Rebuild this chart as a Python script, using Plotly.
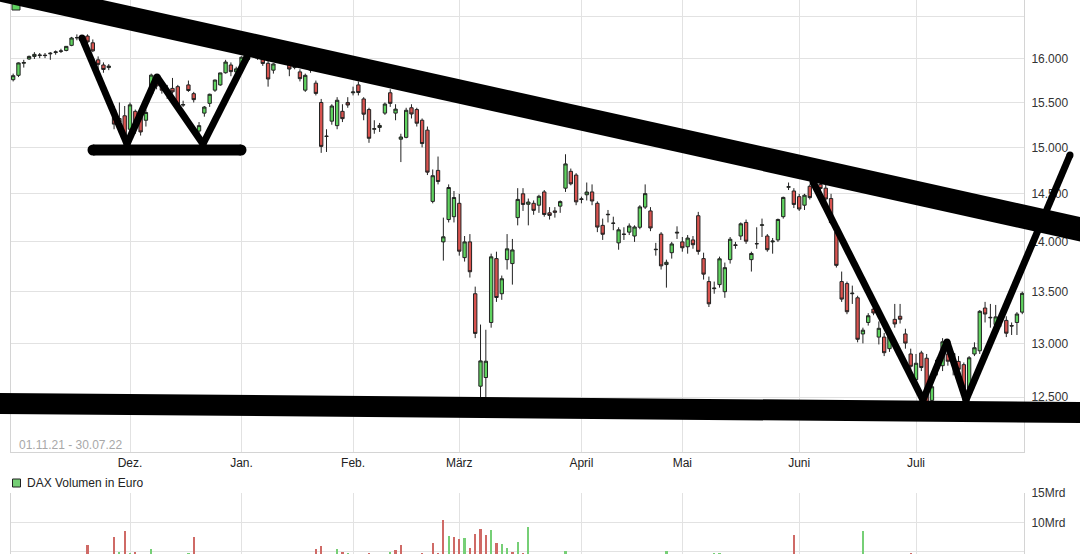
import math
import plotly.graph_objects as go

# ---------------- data ----------------
trading_days = {
    "2021-11": [1, 2, 3, 4, 5, 8, 9, 10, 11, 12, 15, 16, 17, 18, 19, 22, 23, 24, 25, 26, 29, 30],
    "2021-12": [1, 2, 3, 6, 7, 8, 9, 10, 13, 14, 15, 16, 17, 20, 21, 22, 23, 27, 28, 29, 30],
    "2022-01": [3, 4, 5, 6, 7, 10, 11, 12, 13, 14, 17, 18, 19, 20, 21, 24, 25, 26, 27, 28, 31],
    "2022-02": [1, 2, 3, 4, 7, 8, 9, 10, 11, 14, 15, 16, 17, 18, 21, 22, 23, 24, 25, 28],
    "2022-03": [1, 2, 3, 4, 7, 8, 9, 10, 11, 14, 15, 16, 17, 18, 21, 22, 23, 24, 25, 28, 29, 30, 31],
    "2022-04": [1, 4, 5, 6, 7, 8, 11, 12, 13, 14, 19, 20, 21, 22, 25, 26, 27, 28, 29],
    "2022-05": [2, 3, 4, 5, 6, 9, 10, 11, 12, 13, 16, 17, 18, 19, 20, 23, 24, 25, 26, 27, 30, 31],
    "2022-06": [1, 2, 3, 6, 7, 8, 9, 10, 13, 14, 15, 16, 17, 20, 21, 22, 23, 24, 27, 28, 29, 30],
    "2022-07": [1, 4, 5, 6, 7, 8, 11, 12, 13, 14, 15, 18, 19, 20, 21, 22, 25, 26, 27, 28, 29],
}
dates = [f"{m}-{d:02d}" for m, days in trading_days.items() for d in days]

opens = [
    # Nov
    15760, 15810, 15950, 16000, 16030, 16040, 16045, 16060, 16075, 16090, 16100, 16160, 16250, 16250, 16270, 16190, 15990, 15930, 15900, 15420, 15320, 15350,
    # Dec
    15200, 15400, 15380, 15300, 15600, 15790, 15700, 15650, 15660, 15680, 15470, 15700, 15600, 15180, 15380, 15490, 15640, 15700, 15840, 15930, 15850,
    # Jan
    15900, 16070, 16180, 16100, 16020, 15950, 15870, 15990, 16050, 15950, 15900, 15850, 15640, 15870, 15720, 15500, 15120, 15290, 15240, 15400, 15500,
    # Feb
    15610, 15700, 15540, 15420, 15200, 15220, 15380, 15610, 15380, 15090, 15110, 15440, 15420, 15300, 15190, 14420, 14750, 14000, 14230, 14260,
    # Mar
    14400, 13840, 14000, 13480, 12600, 12680, 13200, 13830, 13480, 13820, 13780, 14250, 14500, 14390, 14400, 14380, 14520, 14300, 14320, 14370, 14560, 14740, 14700,
    # Apr
    14440, 14490, 14520, 14400, 14170, 14280, 14190, 13990, 14080, 14100, 14060, 14150, 14360, 14320, 13920, 14080, 13770, 13890, 14090,
    # May
    14000, 13950, 14020, 14270, 13830, 13600, 13530, 13570, 13500, 13820, 13970, 14060, 14200, 13820, 13980, 14170, 14060, 14000, 14020, 14260, 14570, 14530,
    # Jun
    14470, 14380, 14580, 14560, 14600, 14560, 14450, 14100, 13600, 13580, 13480, 13440, 13090, 13200, 13330, 13060, 13060, 12950, 13230, 13260, 13090, 12900,
    # Jul
    12660, 12910, 12860, 12470, 12760, 12790, 12900, 12830, 12830, 12800, 12580, 12900, 12930, 13340, 13250, 13180, 13260, 13220, 13170, 13200, 13300,
]
highs = [
    15830, 15960, 15990, 16040, 16080, 16070, 16070, 16080, 16100, 16120, 16150, 16260, 16290, 16280, 16290, 16230, 16030, 15960, 15940, 15460, 15500, 15460,
    15500, 15420, 15420, 15420, 15830, 15820, 15720, 15700, 15780, 15700, 15520, 15750, 15620, 15280, 15460, 15600, 15760, 15840, 15990, 15960, 15910,
    16030, 16170, 16285, 16130, 16060, 15980, 15950, 16060, 16080, 15970, 15950, 15880, 15830, 15930, 15750, 15540, 15200, 15480, 15560, 15480, 15560,
    15680, 15740, 15560, 15440, 15300, 15270, 15500, 15650, 15480, 15150, 15440, 15480, 15440, 15320, 15230, 14760, 14900, 14250, 14600, 14530,
    14500, 14060, 14080, 13550, 13180, 13130, 13880, 13900, 13660, 14080, 14030, 14560, 14560, 14450, 14430, 14490, 14540, 14360, 14360, 14430, 14925, 14770, 14720,
    14470, 14620, 14600, 14420, 14240, 14330, 14260, 14150, 14150, 14190, 14170, 14380, 14600, 14360, 13990, 14100, 13820, 14000, 14160,
    14050, 14070, 14060, 14310, 13890, 13650, 13600, 13850, 13790, 14050, 14000, 14200, 14230, 13900, 14150, 14240, 14080, 14040, 14240, 14470, 14620, 14560,
    14500, 14500, 14600, 14680, 14620, 14600, 14500, 14120, 13700, 13600, 13560, 13460, 13150, 13290, 13350, 13210, 13100, 13130, 13380, 13380, 13140, 12950,
    12900, 12930, 12900, 12650, 12870, 13050, 12930, 12920, 12880, 12820, 12880, 13010, 13320, 13400, 13380, 13370, 13310, 13260, 13200, 13300, 13500,
]
lows = [
    15740, 15790, 15900, 15990, 16000, 16010, 16010, 15990, 16050, 16070, 16090, 16150, 16220, 16200, 16150, 16080, 15880, 15840, 15870, 15200, 15200, 15060,
    15150, 15150, 15130, 15230, 15580, 15650, 15600, 15540, 15600, 15420, 15450, 15620, 15500, 15060, 15340, 15450, 15620, 15690, 15830, 15800, 15840,
    15880, 16050, 16160, 15990, 15920, 15680, 15830, 15960, 15990, 15800, 15880, 15740, 15620, 15840, 15580, 14940, 14950, 15250, 15200, 15280, 15440,
    15580, 15580, 15300, 15050, 15150, 15170, 15360, 15450, 15300, 14840, 15100, 15320, 15230, 15000, 14700, 14400, 14600, 13810, 14200, 14200,
    13860, 13800, 13640, 13050, 12440, 12480, 13150, 13400, 13420, 13720, 13570, 14170, 14320, 14170, 14280, 14300, 14260, 14230, 14250, 14300, 14520, 14590, 14380,
    14400, 14430, 14380, 14100, 14020, 14200, 14120, 13920, 14020, 14070, 14000, 14130, 14340, 14110, 13860, 13720, 13540, 13830, 14030,
    13900, 13880, 13930, 13870, 13620, 13350, 13480, 13540, 13440, 13780, 13930, 14020, 13980, 13700, 13930, 14050, 13900, 13880, 14000, 14240, 14540, 14350,
    14320, 14330, 14440, 14540, 14460, 14420, 14180, 13740, 13400, 13280, 13380, 13010, 13000, 13170, 13270, 12990, 12880, 12920, 13150, 13190, 12950, 12700,
    12620, 12740, 12380, 12400, 12700, 12740, 12790, 12700, 12650, 12390, 12560, 12880, 12900, 13200, 13150, 13150, 13160, 13060, 13080, 13080, 13280,
]
closes = [
    15806, 15954, 15959, 16030, 16054, 16046, 16040, 16067, 16083, 16094, 16148, 16247, 16251, 16255, 16200, 16095, 15937, 15878, 15917, 15257, 15280, 15100,
    15473, 15263, 15170, 15387, 15813, 15687, 15639, 15623, 15621, 15453, 15476, 15636, 15532, 15240, 15448, 15593, 15756, 15838, 15964, 15853, 15885,
    16021, 16152, 16271, 16052, 15948, 15768, 15942, 16010, 16031, 15883, 15934, 15772, 15810, 15912, 15603, 15011, 15123, 15460, 15525, 15318, 15471,
    15619, 15613, 15368, 15100, 15206, 15242, 15482, 15490, 15425, 15114, 15412, 15370, 15267, 15042, 14731, 14693, 14631, 14052, 14567, 14461,
    13905, 14000, 13698, 13095, 12835, 12832, 13848, 13443, 13628, 13929, 13918, 14441, 14388, 14413, 14326, 14474, 14283, 14273, 14306, 14418, 14820, 14606, 14415,
    14446, 14519, 14424, 14152, 14078, 14284, 14193, 14124, 14077, 14163, 14153, 14362, 14502, 14143, 13924, 13757, 13793, 13979, 14098,
    13940, 14039, 13971, 13903, 13674, 13381, 13535, 13828, 13739, 14027, 13964, 14186, 14007, 13882, 13982, 14175, 13920, 14008, 14231, 14462, 14575, 14388,
    14340, 14485, 14460, 14653, 14556, 14445, 14198, 13762, 13427, 13304, 13485, 13039, 13126, 13265, 13292, 13144, 12912, 13118, 13186, 13231, 13003, 12784,
    12813, 12773, 12401, 12595, 12843, 13015, 12832, 12905, 12756, 12519, 12864, 12959, 13308, 13282, 13246, 13254, 13210, 13097, 13166, 13282, 13484,
]
# daily turnover in billion euro (values under ~4.7 are below the visible part of the panel)
volume_mrd = [
    3.6, 3.9, 3.7, 3.5, 3.4, 3.3, 3.4, 3.6, 3.5, 3.2, 3.3, 3.8, 3.6, 3.9, 6.2, 3.8, 4.2, 3.7, 2.4, 7.5, 5.06, 8.5,
    4.9, 5.06, 4.4, 4.1, 5.45, 4.0, 3.7, 3.6, 3.8, 4.0, 4.3, 4.8, 7.6, 4.2, 3.5, 3.1, 2.6, 2.2, 2.5, 2.4, 2.3,
    3.2, 3.9, 3.8, 4.1, 3.7, 4.2, 3.6, 3.5, 3.4, 3.6, 2.8, 3.9, 3.8, 3.9, 5.45, 6.0, 4.4, 4.3, 5.45, 5.06, 4.9,
    4.2, 4.0, 4.4, 4.9, 3.8, 3.7, 4.1, 5.06, 5.3, 6.2, 4.5, 4.0, 4.3, 4.9, 4.4, 6.6, 4.9, 10.45, 7.7, 7.5,
    7.16, 7.3, 5.6, 8.07, 8.86, 7.9, 8.75, 6.6, 6.4, 5.6, 5.0, 6.76, 4.9, 9.2, 4.2, 4.3, 4.1, 3.9, 3.8, 3.6, 5.1, 4.2, 4.4,
    3.9, 3.5, 3.8, 4.2, 4.3, 3.7, 3.6, 3.9, 3.5, 3.6, 3.7, 3.9, 4.2, 4.4, 4.0, 4.3, 5.2, 4.3, 4.1,
    3.8, 3.9, 3.8, 4.4, 4.3, 4.5, 4.8, 4.8, 4.3, 4.0, 3.4, 3.9, 3.7, 4.1, 4.4, 3.5, 3.8, 3.3, 3.6, 3.9, 2.9, 7.9,
    4.2, 3.8, 3.5, 3.4, 3.9, 3.8, 4.1, 4.5, 4.4, 4.2, 4.3, 4.5, 8.6, 3.5, 3.6, 3.7, 4.0, 4.1, 3.6, 3.7, 3.6, 4.9,
    3.8, 2.9, 4.2, 3.9, 3.5, 3.6, 3.4, 3.6, 3.5, 3.9, 3.6, 3.4, 3.8, 3.7, 3.6, 3.5, 3.2, 3.4, 3.3, 3.6, 3.7,
]
month_labels = ["Dez.", "Jan.", "Feb.", "März", "April", "Mai", "Juni", "Juli"]
month_first_days = ["2021-12-01", "2022-01-03", "2022-02-01", "2022-03-01",
                    "2022-04-01", "2022-05-02", "2022-06-01", "2022-07-01"]
price_ticks = [12500, 13000, 13500, 14000, 14500, 15000, 15500, 16000, 16500]
volume_ticks = [5e9, 10e9, 15e9]
volume_tick_labels = ["5Mrd", "10Mrd", "15Mrd"]
period_text = "01.11.21 - 30.07.22"
volume_legend_text = "DAX Volumen in Euro"

# ---------------- layout geometry ----------------
FIG_W, FIG_H = 1080, 554
PLOT_X0, PLOT_X1 = 11, 1024          # pixel x of plot area
PRICE_BOTTOM = 452                    # pixel y of price panel bottom
VOL_TOP = 493                         # pixel y of volume panel top

GREEN = "#5fd35f"
RED = "#d9534f"
EDGE = "#222222"
GRID = "#e2e2e2"
BORDER = "#d4d4d4"
FONT = "Liberation Sans, Arial, sans-serif"

vol_colors = []
prev = opens[0]
for c in closes:
    vol_colors.append("#76cf76" if c >= prev else "#cf6a66")
    prev = c

def thousands(v):
    return f"{v:,}".replace(",", ".")

price_ticktext = [thousands(v) if v < 16500 else "" for v in price_ticks]

fig = go.Figure()
fig.add_trace(go.Candlestick(
    x=dates, open=opens, high=highs, low=lows, close=closes,
    xaxis="x", yaxis="y",
    increasing=dict(fillcolor=GREEN, line=dict(color=EDGE, width=1)),
    decreasing=dict(fillcolor=RED, line=dict(color=EDGE, width=1)),
    whiskerwidth=0, showlegend=False, hoverinfo="skip",
))
fig.add_trace(go.Bar(
    x=dates, y=[v * 1e9 for v in volume_mrd],
    marker=dict(color=vol_colors, line=dict(width=0)),
    width=0.42, xaxis="x2", yaxis="y2", showlegend=False, hoverinfo="skip",
))

x_range = [-0.406, 190.33]
price_dom = [1 - PRICE_BOTTOM / FIG_H, 1]
vol_dom = [0, 1 - VOL_TOP / FIG_H]

axis_common = dict(showgrid=True, gridcolor=GRID, gridwidth=1, zeroline=False,
                   ticks="", showline=True, linecolor=BORDER, linewidth=1,
                   automargin=False)

fig.update_layout(
    width=FIG_W, height=FIG_H, autosize=False,
    margin=dict(l=PLOT_X0, r=FIG_W - PLOT_X1, t=0, b=0, pad=0),
    paper_bgcolor="white", plot_bgcolor="white",
    font=dict(family=FONT, size=12, color="#333333"),
    showlegend=False, bargap=0, boxgap=0.1,
    xaxis=dict(**axis_common, type="category", domain=[0, 1], anchor="y",
               range=x_range, tickmode="array", tickvals=month_first_days,
               ticktext=month_labels, rangeslider=dict(visible=False),
               ticklabelstandoff=0,
               tickfont=dict(size=12, color="#222222")),
    yaxis=dict(**axis_common, type="log", domain=price_dom, anchor="x",
               range=[math.log10(12009), math.log10(16704)], side="right",
               mirror=True, tickmode="array", tickvals=price_ticks,
               ticktext=price_ticktext, ticklabelstandoff=4,
               tickfont=dict(size=12, color="#333333")),
    xaxis2=dict(**axis_common, type="category", domain=[0, 1], anchor="y2",
                range=x_range, tickmode="array", tickvals=month_first_days,
                showticklabels=False),
    yaxis2=dict(**axis_common, domain=vol_dom, anchor="x2",
                range=[4.66e9, 15e9], side="right", mirror=True,
                tickmode="array", tickvals=volume_ticks,
                ticktext=volume_tick_labels, ticklabelstandoff=4,
                tickfont=dict(size=12, color="#333333")),
)

# ---------------- hand-drawn annotations (pixel positions -> paper) ----------------
def to_paper(xp, yp):
    return (xp - PLOT_X0) / (PLOT_X1 - PLOT_X0), 1 - yp / FIG_H

shapes = []

def stroke(points, width, round_ends=True):
    for (x0, y0), (x1, y1) in zip(points[:-1], points[1:]):
        a, b = to_paper(x0, y0), to_paper(x1, y1)
        shapes.append(dict(type="line", xref="paper", yref="paper", layer="above",
                           x0=a[0], y0=a[1], x1=b[0], y1=b[1],
                           line=dict(color="black", width=width)))
    if round_ends:
        r = width / 2
        for (x, y) in points:
            a, b = to_paper(x - r, y + r), to_paper(x + r, y - r)
            shapes.append(dict(type="circle", xref="paper", yref="paper", layer="above",
                               x0=a[0], y0=a[1], x1=b[0], y1=b[1],
                               fillcolor="black", line=dict(width=0)))

def rect(x0, y0, x1, y1, fill, edge):
    a, b = to_paper(x0, y1), to_paper(x1, y0)
    shapes.append(dict(type="rect", xref="paper", yref="paper", layer="above",
                       x0=a[0], y0=a[1], x1=b[0], y1=b[1],
                       fillcolor=fill, line=dict(color=edge, width=1)))

# cropped legend marker of the price chart (top-left)
rect(12, 2, 20, 10, GREEN, EDGE)
# legend marker of the volume panel
rect(12.5, 479, 20.5, 487, "#76cf76", EDGE)

# big descending resistance line and horizontal support line
stroke([(-30, -17.2), (1110, 235.9)], 24, round_ends=False)
stroke([(-30, 403.2), (1110, 412.8)], 21, round_ends=False)
# left W pattern and its base
stroke([(82, 38), (127, 144), (157, 77), (203, 144), (247, 57)], 7)
stroke([(93, 150), (241, 150)], 11)
# right W pattern
stroke([(813, 182), (923, 400), (947, 342), (966, 400), (1070, 155)], 7)

fig.update_layout(shapes=shapes)

px_period = to_paper(17, 445)
px_legend = to_paper(25, 483)
fig.update_layout(annotations=[
    dict(text=period_text, xref="paper", yref="paper", x=px_period[0], y=px_period[1],
         xanchor="left", yanchor="middle", showarrow=False,
         font=dict(family=FONT, size=12, color="#a8a8a8")),
    dict(text=volume_legend_text, xref="paper", yref="paper", x=px_legend[0], y=px_legend[1],
         xanchor="left", yanchor="middle", showarrow=False,
         font=dict(family=FONT, size=12, color="#222222")),
])

fig.write_html(
    "out.html",
    config={"displayModeBar": False, "staticPlot": True},
    post_script="document.documentElement.style.margin='0';"
                "document.body.style.margin='0';"
                "document.body.style.padding='0';"
                "document.body.style.overflow='hidden';",
)
